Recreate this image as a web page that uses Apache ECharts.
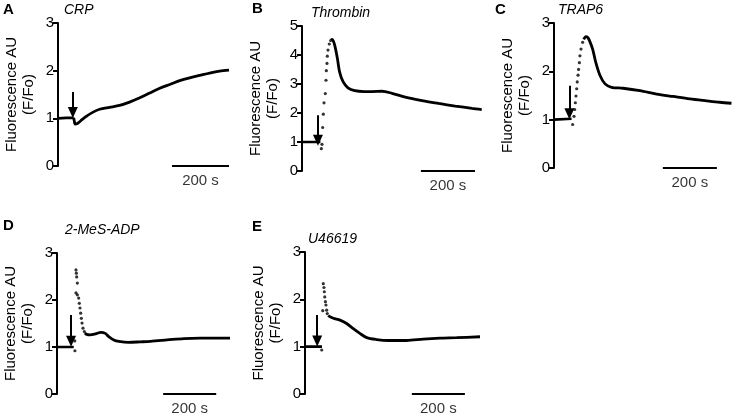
<!DOCTYPE html>
<html>
<head>
<meta charset="utf-8">
<title>Calcium traces</title>
<script src="https://cdn.jsdelivr.net/npm/echarts@6/dist/echarts.min.js"></script>
<style>
    html, body { margin: 0; padding: 0; background: #fff; }
    #main { width: 736px; height: 417px; }
</style>
</head>
<body>
<div id="main"></div>
<script>
// panel letters / agonist names
var panelLetters = ['A', 'B', 'C', 'D', 'E'];
var agonists = ['CRP', 'Thrombin', 'TRAP6', '2-MeS-ADP', 'U46619'];
var yMaxes = [3, 5, 3, 3, 3];
var yTitle = 'Fluorescence AU\n(F/Fo)';
var scaleLabel = '200 s';
// scale bar start / end (s)
var scaleBars = [[400, 600], [440, 640], [403, 603], [400, 600], [403, 603]];
// agonist addition arrow: time (s), top, tip (F/Fo)
var arrows = [[52, 1.55, 1.12], [59, 1.92, 1.06], [57, 1.7, 1.12], [53, 1.68, 1.12], [46, 1.67, 1.12]];

// traces, [time s, F/Fo]
var crpBase = [[0, 1.0], [30, 1.01], [55, 1.01]];
var crpDots = [];
var crpLine = [[55, 1.01], [57, 0.95], [60, 0.88], [68, 0.89], [80, 0.95], [99, 1.04], [123, 1.13], [146, 1.19],
    [181, 1.23], [216, 1.27], [251, 1.34], [287, 1.43], [322, 1.53], [357, 1.63], [392, 1.71], [427, 1.79],
    [462, 1.85], [497, 1.9], [532, 1.95], [567, 1.99], [600, 2.01]];

var thrombinBase = [[0, 1.0], [68, 1.0]];
var thrombinDots = [[71.5, 0.77], [74, 0.92], [76.5, 1.5], [79, 1.96], [81.4, 2.35], [86.3, 2.67], [88.8, 3.13],
    [90, 3.46], [92.5, 3.71], [93.7, 3.96], [96.2, 4.17], [101, 4.38], [106, 4.5]];
var thrombinLine = [[108, 4.52], [111, 4.54], [115, 4.5], [121, 4.34], [131, 3.88], [139, 3.42], [152, 3.08],
    [170, 2.87], [195, 2.77], [230, 2.74], [259, 2.74], [296, 2.75], [333, 2.68], [382, 2.55], [444, 2.43],
    [506, 2.33], [567, 2.24], [629, 2.16], [665, 2.12]];

var trap6Base = [[0, 1.0], [65, 1.02]];
var trap6Dots = [[69, 0.9], [74, 1.07], [76.5, 1.21], [79, 1.35], [81.4, 1.49], [84, 1.64], [86, 1.78], [89, 1.92],
    [91, 2.04], [94, 2.18], [96, 2.32], [100, 2.46], [106, 2.6]];
var trap6Line = [[110, 2.66], [118, 2.72], [125, 2.7], [131, 2.64], [143, 2.46], [155, 2.18], [170, 1.92],
    [189, 1.74], [213, 1.67], [256, 1.65], [318, 1.6], [380, 1.53], [441, 1.48], [503, 1.43], [565, 1.39],
    [614, 1.36], [657, 1.34]];

var adpBase = [[0, 1.0], [63, 1.0]];
var adpDots = [[67, 1.13], [67.5, 0.92], [71.6, 2.64], [72.9, 2.57], [74.2, 2.49], [76.7, 2.36], [71.6, 2.15],
    [76.7, 2.11], [81.7, 2.04], [84.2, 1.93], [86.7, 1.83], [89.2, 1.72], [91.8, 1.61], [94.3, 1.51], [98, 1.4],
    [103, 1.33]];
var adpLine = [[105, 1.3], [112, 1.27], [125, 1.26], [145, 1.28], [165, 1.31], [182, 1.29], [195, 1.22],
    [214, 1.15], [233, 1.12], [270, 1.1], [314, 1.11], [352, 1.12], [415, 1.15], [478, 1.18], [540, 1.19],
    [603, 1.19], [652, 1.19]];

var u466Base = [[0, 1.0], [64, 1.0]];
var u466Dots = [[63, 0.93], [67, 1.76], [69, 2.33], [71.5, 2.25], [73, 2.16], [74.5, 2.05], [77, 1.95],
    [79, 1.88], [81.7, 1.77], [84, 1.7]];
var u466Line = [[88, 1.66], [92, 1.64], [107, 1.6], [132, 1.56], [157, 1.49], [182, 1.38], [207, 1.28],
    [233, 1.19], [270, 1.15], [314, 1.13], [383, 1.13], [446, 1.16], [509, 1.18], [572, 1.19], [660, 1.21]];

var baseLines = [crpBase, thrombinBase, trap6Base, adpBase, u466Base];
var dotSets = [crpDots, thrombinDots, trap6Dots, adpDots, u466Dots];
var traceLines = [crpLine, thrombinLine, trap6Line, adpLine, u466Line];

var FONT = 'Liberation Sans, Arial, Helvetica, sans-serif';

var traceChart = {
    // grid box of each panel (px) and its time span (s)
    layout: [
        { left: 58, top: 23, width: 171, height: 143, xMax: 600 },
        { left: 302, top: 26, width: 180, height: 145, xMax: 666 },
        { left: 554, top: 23, width: 178, height: 145, xMax: 659 },
        { left: 57, top: 253, width: 173, height: 141, xMax: 652 },
        { left: 305, top: 252, width: 175, height: 142, xMax: 660 }
    ],
    // letter + agonist text position
    heads: [
        { lx: 3, ly: 10, tx: 64, ty: 10 },
        { lx: 252, ly: 9, tx: 311, ty: 13 },
        { lx: 495, ly: 10, tx: 558, ty: 10 },
        { lx: 3, ly: 226, tx: 65, ty: 230 },
        { lx: 252, ly: 227, tx: 308, ty: 239 }
    ],
    init: function () {
        var myChart = echarts.init(document.getElementById('main'), null, { renderer: 'canvas' });
        var option = {
            animation: false,
            backgroundColor: '#fff',
            grid: [], xAxis: [], yAxis: [], series: [], graphic: []
        };
        for (var i = 0; i < panelLetters.length; i++) {
            traceChart.buildPanel(option, i);
        }
        myChart.setOption(option);
    },
    buildPanel: function (option, i) {
        var box = traceChart.layout[i], head = traceChart.heads[i];
        option.grid.push({
            left: box.left, top: box.top, width: box.width, height: box.height,
            outerBoundsMode: 'none', containLabel: false
        });
        option.xAxis.push({
            gridIndex: i, type: 'value', min: 0, max: box.xMax, show: false
        });
        option.yAxis.push({
            gridIndex: i, type: 'value', min: 0, max: yMaxes[i], interval: 1,
            name: yTitle, nameLocation: 'middle', nameGap: 21,
            nameTextStyle: { color: '#000', fontSize: 15, fontFamily: FONT, lineHeight: 17 },
            axisLine: { show: true, lineStyle: { color: '#000', width: 2 } },
            axisTick: { show: true, length: 5, lineStyle: { color: '#000', width: 2 } },
            axisLabel: { color: '#000', fontSize: 15, fontFamily: FONT, margin: 4 },
            splitLine: { show: false }
        });
        var ar = arrows[i];
        // baseline + arrow of agonist addition
        option.series.push({
            type: 'line', xAxisIndex: i, yAxisIndex: i, data: baseLines[i],
            showSymbol: false, silent: true,
            lineStyle: { color: '#000', width: 2.6 },
            markLine: {
                silent: true, symbol: ['none', 'triangle'], symbolSize: [10, 11],
                lineStyle: { color: '#000', width: 2, type: 'solid' },
                label: { show: false },
                data: [[{ coord: [ar[0], ar[1]] }, { coord: [ar[0], ar[2]] }]]
            }
        });
        // fast sampled points
        option.series.push({
            type: 'scatter', xAxisIndex: i, yAxisIndex: i, data: dotSets[i],
            symbolSize: 3.2, itemStyle: { color: '#000' }, silent: true
        });
        // slow part of trace
        option.series.push({
            type: 'line', xAxisIndex: i, yAxisIndex: i, data: traceLines[i],
            showSymbol: false, smooth: 0.3, silent: true,
            lineStyle: { color: '#000', width: 2.8 }
        });
        // time scale bar
        var sb = scaleBars[i];
        option.series.push({
            type: 'line', xAxisIndex: i, yAxisIndex: i, data: [[sb[0], 0], [sb[1], 0]],
            showSymbol: false, silent: true, clip: false,
            lineStyle: { color: '#000', width: 2 }
        });
        option.series.push({
            type: 'scatter', xAxisIndex: i, yAxisIndex: i, data: [[(sb[0] + sb[1]) / 2, 0]],
            symbolSize: 0, silent: true, clip: false,
            label: {
                show: true, position: 'bottom', distance: 7, formatter: scaleLabel,
                color: '#000', fontSize: 15, fontFamily: FONT
            }
        });
        // panel letter and agonist name
        option.graphic.push({
            type: 'text', x: head.lx, y: head.ly, silent: true,
            style: { text: panelLetters[i], fill: '#000', font: 'bold 15px ' + FONT, textVerticalAlign: 'middle' }
        });
        option.graphic.push({
            type: 'text', x: head.tx, y: head.ty, silent: true,
            style: { text: agonists[i], fill: '#000', font: 'italic 14px ' + FONT, textVerticalAlign: 'middle' }
        });
    }
};

traceChart.init();
</script>
</body>
</html>
